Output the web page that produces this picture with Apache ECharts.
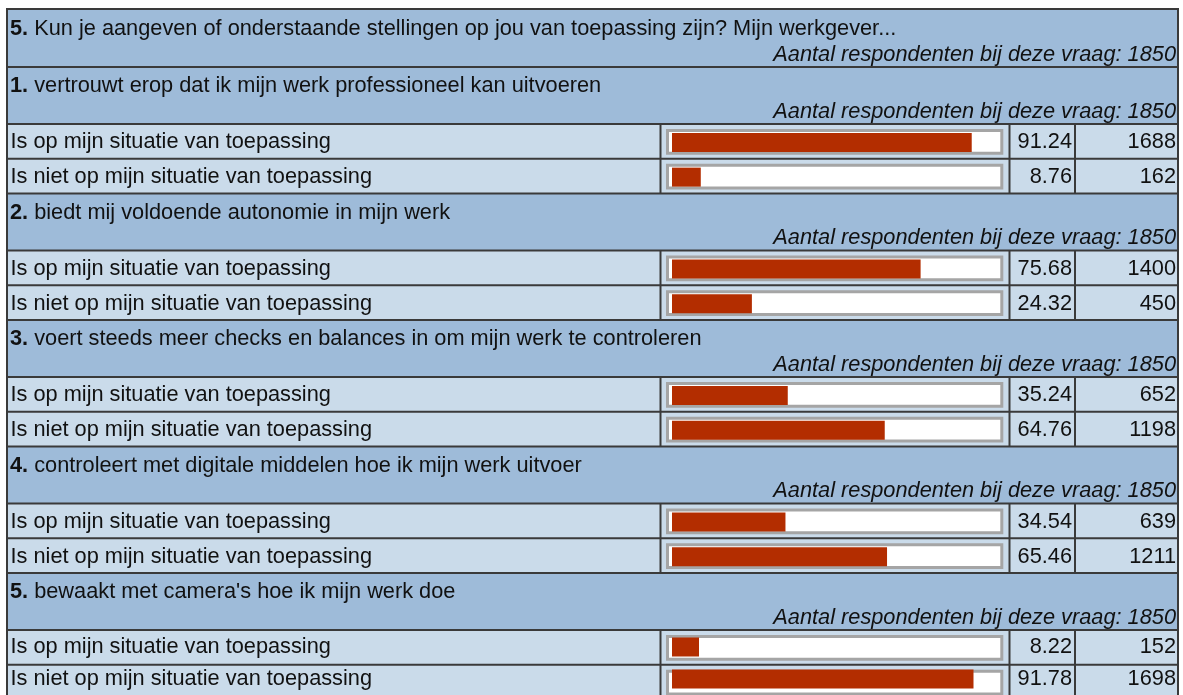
<!DOCTYPE html>
<html><head><meta charset="utf-8">
<script src="https://cdn.jsdelivr.net/npm/echarts@6/dist/echarts.min.js"></script>
<style>html,body{margin:0;padding:0;background:#fff}#c{width:1183px;height:695px}</style>
</head><body><div id="c"></div>
<script>
// ---------- data ----------
const mainNumber = '5.';
const mainQuestion = 'Kun je aangeven of onderstaande stellingen op jou van toepassing zijn? Mijn werkgever...';
const mainRespondents = 1850;
const statementNumbers = ['1.', '2.', '3.', '4.', '5.'];
const statements = [
  'vertrouwt erop dat ik mijn werk professioneel kan uitvoeren',
  'biedt mij voldoende autonomie in mijn werk',
  'voert steeds meer checks en balances in om mijn werk te controleren',
  'controleert met digitale middelen hoe ik mijn werk uitvoer',
  "bewaakt met camera's hoe ik mijn werk doe"
];
const answerLabels = ['Is op mijn situatie van toepassing', 'Is niet op mijn situatie van toepassing'];
const percentYes = [91.24, 75.68, 35.24, 34.54, 8.22];
const percentNo  = [8.76, 24.32, 64.76, 65.46, 91.78];
const countYes = [1688, 1400, 652, 639, 152];
const countNo  = [162, 450, 1198, 1211, 1698];
const respondents = [1850, 1850, 1850, 1850, 1850];
const respondentsPrefix = 'Aantal respondenten bij deze vraag: ';

// ---------- layout ----------
const TL = 7, TR = 1178, TOP = 9, H0 = 58, HH = 57, RH = 34.75, GROUP = HH + 2 * RH;
const BAR0 = 672, BAR100 = 1000.5;
const COL1 = 660.5, COL2 = 1009.5, COL3 = 1075;
const FONT = '"Liberation Sans", Arial, Helvetica, sans-serif';
const FS = 21.75;
const HEAD = '#9ebbd9', CELL = '#cadbea', LINE = '#3a3a3a', TXT = '#111111', BAR = '#b32d00';

const graphics = [], grids = [], xAxes = [], yAxes = [], series = [];
function rect(x, y, w, h, fill, z) {
  graphics.push({ type: 'rect', silent: true, z: z || 0, shape: { x, y, width: w, height: h }, style: { fill } });
}
function line(x1, y1, x2, y2, w) {
  graphics.push({ type: 'line', silent: true, z: 5, shape: { x1, y1, x2, y2 }, style: { stroke: LINE, lineWidth: w || 2 } });
}
function headText(num, text, y) {
  graphics.push({ type: 'text', silent: true, z: 6, x: 10, y,
    style: { text: '{b|' + num + '} ' + text, fill: TXT, fontSize: FS, fontFamily: FONT, verticalAlign: 'middle', align: 'left',
      rich: { b: { fontWeight: 'bold', fontSize: FS, fontFamily: FONT, fill: TXT } } } });
}
function italText(text, y) {
  graphics.push({ type: 'text', silent: true, z: 6, x: TR - 2, y,
    style: { text, fill: TXT, fontSize: FS, fontFamily: FONT, fontStyle: 'italic', verticalAlign: 'middle', align: 'right' } });
}

// main header
rect(TL, TOP, TR - TL, H0, HEAD);
headText(mainNumber, mainQuestion, TOP + 19.5);
italText(respondentsPrefix + mainRespondents, TOP + 45.5);

statements.forEach((st, i) => {
  const top = TOP + H0 + i * GROUP;
  rect(TL, top, TR - TL, HH, HEAD);
  headText(statementNumbers[i], st, top + 19);
  italText(respondentsPrefix + respondents[i], top + 44.5);
  line(TL, top, TR, top);
  for (let r = 0; r < 2; r++) {
    const y0 = top + HH + r * RH;
    rect(TL, y0, TR - TL, RH, CELL);
    graphics.push({ type: 'rect', silent: true, z: 1,
      shape: { x: 667.5, y: y0 + 6.5, width: 334.3, height: 22.7 },
      style: { fill: '#ffffff', stroke: '#a5a5a5', lineWidth: 3 } });
    line(TL, y0, TR, y0);
  }
  const dTop = top + HH, dBot = top + GROUP;
  [COL1, COL2, COL3].forEach(x => line(x, dTop, x, dBot));

  grids.push({ left: BAR0, width: BAR100 - BAR0, top: dTop + 1, height: 2 * RH });
  xAxes.push({ gridIndex: i, type: 'value', min: 0, max: 100, show: false });
  const lab = { fontSize: FS, fontFamily: FONT, color: TXT, interval: 0, padding: [2, 0, 0, 0] };
  const base = { gridIndex: i, type: 'category', inverse: true, z: 10,
    axisLine: { show: false }, axisTick: { show: false }, splitLine: { show: false } };
  yAxes.push(Object.assign({}, base, { position: 'left', data: answerLabels,
    axisLabel: Object.assign({}, lab, { align: 'left', margin: BAR0 - 10.5 }) }));
  yAxes.push(Object.assign({}, base, { position: 'right', offset: 0,
    data: [percentYes[i].toFixed(2), percentNo[i].toFixed(2)],
    axisLabel: Object.assign({}, lab, { align: 'right', margin: 1072 - BAR100 }) }));
  yAxes.push(Object.assign({}, base, { position: 'right', offset: 0,
    data: [String(countYes[i]), String(countNo[i])],
    axisLabel: Object.assign({}, lab, { align: 'right', margin: 1176 - BAR100 }) }));
  series.push({ type: 'bar', xAxisIndex: i, yAxisIndex: i * 3, z: 10, silent: true,
    barWidth: 19, data: [percentYes[i], percentNo[i]],
    itemStyle: { color: BAR }, animation: false });
});
// outer border
graphics.push({ type: 'rect', silent: true, z: 7, shape: { x: TL, y: TOP, width: TR - TL, height: 720 },
  style: { fill: 'none', stroke: LINE, lineWidth: 2 } });

const chart = echarts.init(document.getElementById('c'), null, { renderer: 'canvas' });
chart.setOption({
  animation: false,
  backgroundColor: '#ffffff',
  grid: grids, xAxis: xAxes, yAxis: yAxes, series,
  graphic: { elements: graphics }
});
</script></body></html>
